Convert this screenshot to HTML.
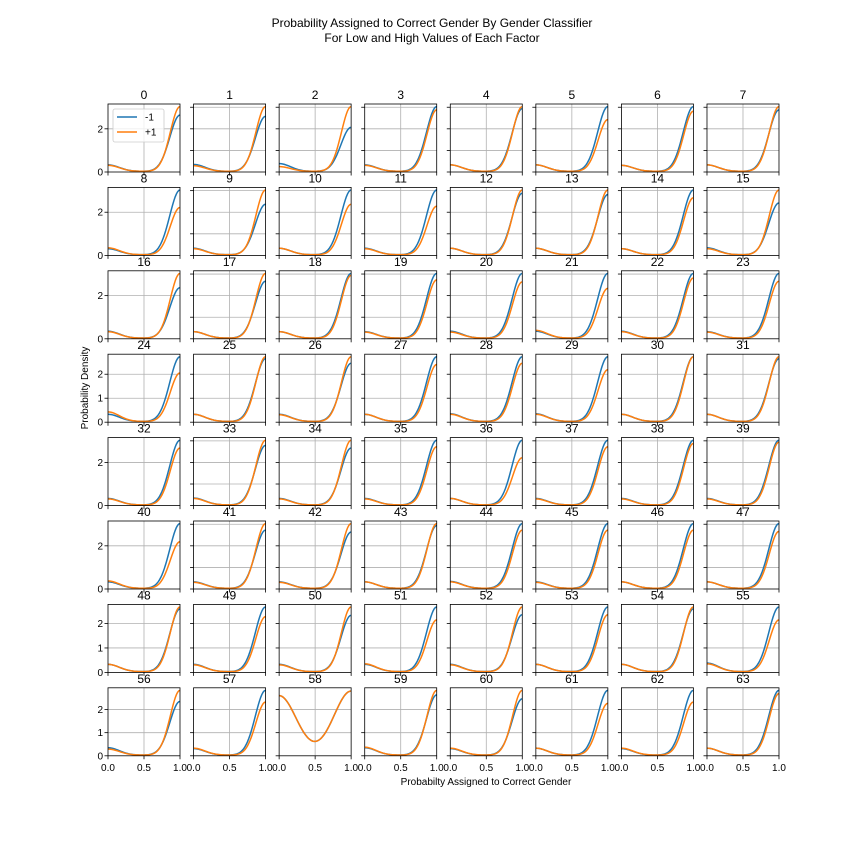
<!DOCTYPE html>
<html><head><meta charset="utf-8"><style>
html,body{margin:0;padding:0;background:#fff}
svg{display:block;font-family:"Liberation Sans","DejaVu Sans",sans-serif}
</style></head><body>
<svg id="chart" width="864" height="864" viewBox="0 0 864 864" xmlns="http://www.w3.org/2000/svg">
<rect width="864" height="864" fill="#fff"/>
<text x="432" y="27" font-size="12" text-anchor="middle">Probability Assigned to Correct Gender By Gender Classifier</text>
<text x="432" y="42" font-size="12" text-anchor="middle">For Low and High Values of Each Factor</text>
<text x="0" y="0" font-size="10" text-anchor="middle" transform="translate(88,388) rotate(-90)">Probability Density</text>
<text x="486" y="785" font-size="10" text-anchor="middle">Probabilty Assigned to Correct Gender</text>
<g id="panels"></g>
</svg>
<script>
// relative end heights (fraction of row max) for each factor panel
const blueEnd = [.87,.85,.68,1,.97,1,1,.95, 1,.78,1,1,.95,.93,1,.8, .78,.88,1,1,1,1,1,1, 1,.97,.9,1,1,1,1,.97, 1,.92,.88,1,1,1,1,1, 1,.9,.87,.97,1,1,1,1, .97,1,.87,1,.88,1,.97,1, .83,1,1,.93,.87,1,1,1];
const orangeEnd = [1,1,1,.95,1,.8,.93,1, .73,1,.78,.75,1,1,.88,1, 1,1,.97,.9,.87,.77,.93,.88, .75,1,1,.88,.9,.8,1,1, .88,1,1,.9,.73,.9,.95,.97, .72,1,1,1,.9,.9,.9,.88, 1,.85,1,.8,1,.88,1,.8, 1,.82,1,1,1,.8,.82,.95];
const rowMax = [3.0,3.0,3.0,2.7,3.0,3.0,2.65,2.8];
const blueStart = [.3,.32,.36,.3,.3,.3,.28,.3, .28,.3,.3,.3,.3,.3,.28,.32, .32,.3,.3,.3,.32,.32,.32,.3, .3,.3,.3,.3,.32,.32,.3,.3, .3,.32,.3,.3,.3,.3,.3,.3, .3,.3,.3,.3,.32,.3,.3,.3, .3,.3,.3,.3,.3,.3,.3,.35, .32,.28,2.6,.32,.28,.3,.28,.3];
const orangeStart = [.28,.26,.22,.28,.3,.3,.28,.3, .32,.28,.3,.28,.3,.3,.28,.28, .3,.3,.3,.28,.28,.36,.3,.28, .4,.3,.28,.3,.3,.3,.3,.3, .28,.3,.28,.28,.3,.28,.28,.28, .34,.28,.28,.3,.3,.28,.3,.3, .3,.28,.28,.32,.28,.3,.3,.32, .26,.3,2.6,.34,.3,.3,.3,.3];
const colTickStep = [2,2,2,1,2,2,1,1];
const xTicks = [0,0.5,1];
const xTickLabels = ["0.0","0.5","1.0"];

const NS = "http://www.w3.org/2000/svg";
const root = document.getElementById('panels');
function mk(tag, attrs, parent){const e=document.createElementNS(NS,tag);for(const k in attrs)e.setAttribute(k,attrs[k]);(parent||root).appendChild(e);return e;}
function density(start,end,x,isSpecial,w){
  const ws = isSpecial?0.34:0.22, we = isSpecial?0.34:w;
  let v = start*Math.exp(-(x/ws)*(x/ws)) + end*Math.exp(-((1-x)/we)*((1-x)/we));
  if(!isSpecial) v += 0.03;
  return v;
}
const W=72,H=68;
for(let k=0;k<64;k++){
  const r=Math.floor(k/8), c=k%8;
  const L=108+c*85.57, T=104+r*83.4;
  const g=mk('g',{});
  
  
  const special = (k===58);
  const bE=blueEnd[k]*rowMax[r], oE=orangeEnd[k]*rowMax[r];
  const bS=blueStart[k], oS=orangeStart[k];
  let ymax=Math.max(bE,oE,bS,oS)*1.05;
  const xs=v=>L+v*W, ys=v=>T+H-v/ymax*H;
  const gl=mk('line',{x1:xs(.5),x2:xs(.5),y1:T,y2:T+H,stroke:'#b0b0b0','stroke-width':0.8},g);
  
  
  const step = c===0 ? colTickStep[r] : 1;
  for(let t=0;t<=ymax;t+=step){
    const y=ys(t);
    if(t>0){const l=mk('line',{x1:L,x2:L+W,y1:y,y2:y,stroke:'#b0b0b0','stroke-width':0.8},g);
      
      }
    mk('line',{x1:L-3.5,x2:L,y1:y,y2:y,stroke:'#000','stroke-width':0.8},g);
    if(c===0){const tx=mk('text',{x:L-5,y:y+3.5,'font-size':10,'text-anchor':'end'},g);tx.textContent=t;
      
      }
  }
  xTicks.forEach((t,i)=>{
    mk('line',{x1:xs(t),x2:xs(t),y1:T+H,y2:T+H+3.5,stroke:'#000','stroke-width':0.8},g);
    if(r===7){const tx=mk('text',{x:xs(t),y:T+H+15,'font-size':10,'text-anchor':'middle'},g);tx.textContent=xTickLabels[i];
      
      }
  });
  [[bS,bE,'#1f77b4',0.20,'blue-curve'],[oS,oE,'#ff7f0e',0.19,'orange-curve']].forEach(s=>{
    let d='';
    for(let i=0;i<=60;i++){const x=i/60;const y=density(s[0],s[1],x,special,s[3]);d+=(i?'L':'M')+xs(x).toFixed(2)+','+ys(y).toFixed(2);}
    const p=mk('path',{d:d,fill:'none',stroke:s[2],'stroke-width':1.5},g);
    
    
  });
  const fr=mk('rect',{x:L,y:T,width:W,height:H,fill:'none',stroke:'#000','stroke-width':0.8},g);
  
  
  const ti=mk('text',{x:L+W/2,y:T-5,'font-size':12,'text-anchor':'middle'},g);
  ti.textContent=k;
  
  
}
const lg=mk('g',{});


mk('rect',{x:113,y:109,width:51,height:33,fill:'#fff','fill-opacity':0.8,stroke:'#ccc','stroke-width':0.8,rx:2},lg);
[['-1','#1f77b4',117],['+1','#ff7f0e',132]].forEach(e=>{
  const l=mk('line',{x1:117,x2:137,y1:e[2],y2:e[2],stroke:e[1],'stroke-width':1.5},lg);
  
  
  const t=mk('text',{x:145,y:e[2]+3.5,'font-size':10},lg);t.textContent=e[0];
  
  
});
</script>
</body></html>
